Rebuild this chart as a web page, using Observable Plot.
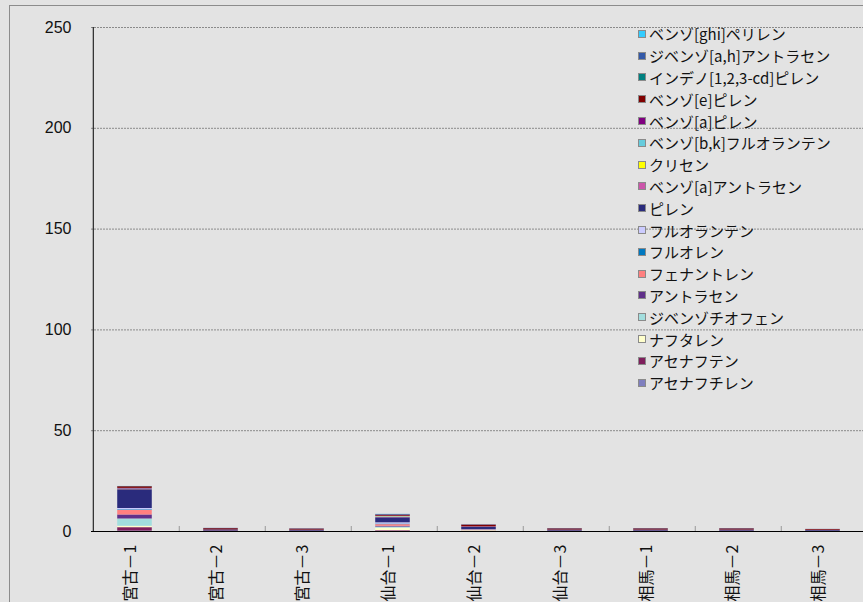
<!DOCTYPE html>
<html><head><meta charset="utf-8">
<script src="https://cdn.jsdelivr.net/npm/d3@7"></script>
<script src="https://cdn.jsdelivr.net/npm/@observablehq/plot@0.6"></script>
<style>
html,body{margin:0;padding:0;overflow:hidden;background:#e3e3e3;width:863px;height:602px;}
#wrap{position:relative;width:863px;height:602px;overflow:hidden;}
#border{position:absolute;left:9px;top:5px;width:1000px;height:1000px;border:1px solid #8c8c8c;box-sizing:border-box;}
#chart{position:absolute;left:0;top:0;width:880px;}
#chart svg{max-width:none !important;}
#legend{position:absolute;left:638px;top:23px;font-family:"Noto Sans CJK JP";font-size:15px;color:#111;}
.row{height:21.8px;display:flex;align-items:center;white-space:nowrap;}
.sw{width:6px;height:6px;border:1px solid #8a8a8a;margin-right:3px;flex:none;}
</style></head>
<body>
<div id="wrap"><div id="border"></div><div id="chart"></div><div id="legend"></div></div>
<script>
// categories (sites)
const categories = ["宮古－1","宮古－2","宮古－3","仙台－1","仙台－2","仙台－3","相馬－1","相馬－2","相馬－3"];
// compounds, stacked bottom -> top
const compounds = ["アセナフチレン","アセナフテン","ナフタレン","ジベンゾチオフェン","アントラセン","フェナントレン","フルオレン","フルオランテン","ピレン","ベンゾ[a]アントラセン","クリセン","ベンゾ[b,k]フルオランテン","ベンゾ[a]ピレン","ベンゾ[e]ピレン","インデノ[1,2,3-cd]ピレン","ジベンゾ[a,h]アントラセン","ベンゾ[ghi]ペリレン"];
const colors = ["#7f7fbf","#7f1f5c","#ffffcc","#a2dede","#60308a","#ff8080","#0078c0","#ccccff","#2a2b7c","#cc55aa","#ffff00","#66ccdd","#800080","#800000","#008080","#3359a8","#33ccff"];
// values per site, same order as compounds
const miyako1 = [0.2,1.7,0.7,3.6,2.0,2.3,0.3,0.6,9.3,0.1,0.1,0.2,0.3,0.8,0.05,0.05,0.05];
const miyako2 = [0,0.2,0,0,0,0.05,0,0,0.5,0,0,0,0.05,0.6,0,0.15,0];
const miyako3 = [0,0.15,0,0,0,0.05,0,0,0.45,0,0,0,0.05,0.5,0,0.15,0];
const sendai1 = [0.1,0.3,1.3,0.5,0.4,0.8,0.3,0.6,2.5,0.2,0.2,0.2,0.2,0.5,0.05,0.3,0.05];
const sendai2 = [0,0.2,0.3,0.05,0.1,0.15,0,0.1,1.1,0.05,0.05,0.05,0.2,0.8,0,0.15,0];
const sendai3 = [0,0.15,0,0,0,0.05,0,0,0.5,0,0,0,0.05,0.55,0,0.15,0];
const souma1 = [0,0.15,0,0,0,0.05,0,0,0.5,0,0,0,0.05,0.55,0,0.15,0];
const souma2 = [0,0.15,0,0,0,0.05,0,0,0.5,0,0,0,0.05,0.55,0,0.15,0];
const souma3 = [0,0.1,0,0,0,0.05,0,0,0.45,0,0,0,0.05,0.35,0,0.05,0];
const siteValues = [miyako1,miyako2,miyako3,sendai1,sendai2,sendai3,souma1,souma2,souma3];
const yTicks = [0,50,100,150,200,250];

const table = [];
categories.forEach((c,i)=>compounds.forEach((k,j)=>table.push({site:c, compound:k, value:siteValues[i][j]})));

const W = 880, H = 602, ML = 91, MR = 11, MT = 27, MB = 71;
const step = (W - ML - MR) / categories.length;
const barInset = (step - 35) / 2;
const jp = "'Noto Sans CJK JP', sans-serif";

const chart = Plot.plot({
  width: W, height: H,
  marginLeft: ML, marginRight: MR, marginTop: MT, marginBottom: MB,
  style: {background: "transparent", overflow: "visible", color: "#111", maxWidth: "none"},
  x: {domain: categories, padding: 0, label: null, axis: null},
  y: {domain: [0, 250], label: null, axis: null},
  color: {domain: compounds, range: colors},
  marks: [
    Plot.gridY(yTicks.slice(1), {stroke: "#8a8a8a", strokeOpacity: 1, strokeDasharray: "2,1"}),
    Plot.barY(table, {x: "site", y: "value", fill: "compound", insetLeft: barInset - 1.5, insetRight: barInset + 1.5}),
    Plot.ruleX(categories.slice(1), {x: d => d, dx: -step/2, y1: 0, y2: 0, insetTop: -5, stroke: "#999"}),
    Plot.ruleX([categories[0]], {x: d => d, dx: -step/2, stroke: "#000"}),
    Plot.ruleY([0], {stroke: "#000"}),
    Plot.axisY(yTicks, {tickSize: 0, tickPadding: 20, fontSize: 16, fontFamily: "'Liberation Sans', Arial, sans-serif", label: null}),
    Plot.axisX({tickSize: 0, tickPadding: 13, tickRotate: -90, dx: -6, fontSize: 16, fontFamily: jp, label: null})
  ]
});
document.getElementById("chart").appendChild(chart);

const legend = document.getElementById("legend");
compounds.map((k,i)=>[k,colors[i]]).reverse().forEach(([k,c])=>{
  const row = document.createElement("div"); row.className = "row";
  const sw = document.createElement("span"); sw.className = "sw"; sw.style.background = c;
  const t = document.createElement("span"); t.textContent = k;
  row.appendChild(sw); row.appendChild(t); legend.appendChild(row);
});
</script>
</body></html>
